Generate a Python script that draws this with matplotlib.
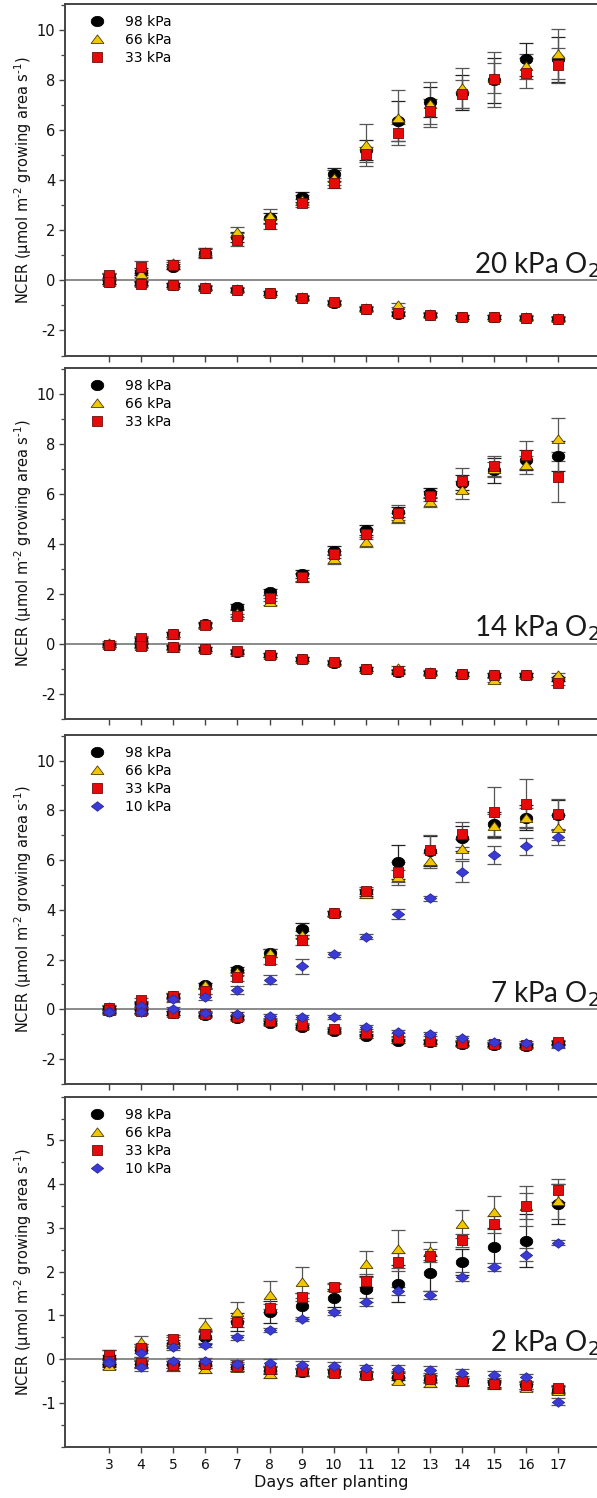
import matplotlib
matplotlib.use("Agg")
import matplotlib.pyplot as plt
from matplotlib.ticker import MultipleLocator, FixedLocator
from matplotlib.path import Path
import numpy as np

plt.rcParams['font.family'] = ['DejaVu Sans']
plt.rcParams['mathtext.fontset'] = 'dejavusans'
plt.rcParams['axes.unicode_minus'] = False

days = [3, 4, 5, 6, 7, 8, 9, 10, 11, 12, 13, 14, 15, 16, 17]
series_labels = ["98 kPa", "66 kPa", "33 kPa", "10 kPa"]
panel_labels = ["20 kPa O$_2$", "14 kPa O$_2$", "7 kPa O$_2$", "2 kPa O$_2$"]

# ---- 20 kPa O2 ----
o20_light_98 = [0.15, 0.35, 0.55, 1.1, 1.75, 2.5, 3.33, 4.24, 5.2, 6.37, 7.13, 7.5, 8.0, 8.83, 8.83]
o20_light_66 = [0.2, 0.27, 0.7, 1.15, 1.93, 2.56, 3.2, 4.1, 5.4, 6.5, 7.03, 7.67, 8.1, 8.56, 9.04]
o20_light_33 = [0.2, 0.53, 0.6, 1.1, 1.63, 2.24, 3.1, 3.9, 5.03, 5.9, 6.76, 7.44, 8.03, 8.29, 8.6]
o20_light_err_98 = [0.12, 0.15, 0.1, 0.15, 0.2, 0.2, 0.2, 0.25, 0.4, 0.8, 0.6, 0.7, 0.9, 0.65, 0.9]
o20_light_err_66 = [0.1, 0.15, 0.12, 0.15, 0.2, 0.3, 0.2, 0.3, 0.85, 1.1, 0.9, 0.8, 0.6, 0.5, 1.0]
o20_light_err_33 = [0.1, 0.25, 0.15, 0.2, 0.25, 0.2, 0.15, 0.2, 0.3, 0.35, 0.5, 0.55, 1.1, 0.6, 0.7]
o20_dark_98 = [-0.05, -0.12, -0.2, -0.3, -0.38, -0.52, -0.7, -0.9, -1.15, -1.35, -1.4, -1.47, -1.47, -1.5, -1.55]
o20_dark_66 = [-0.05, -0.1, -0.18, -0.28, -0.36, -0.5, -0.68, -0.85, -1.1, -1.0, -1.35, -1.45, -1.45, -1.48, -1.5]
o20_dark_33 = [-0.05, -0.13, -0.2, -0.3, -0.37, -0.52, -0.7, -0.87, -1.13, -1.3, -1.37, -1.47, -1.47, -1.5, -1.53]

# ---- 14 kPa O2 ----
o14_light_98 = [-0.04, 0.15, 0.4, 0.8, 1.49, 2.09, 2.8, 3.73, 4.56, 5.3, 6.05, 6.45, 6.96, 7.36, 7.52]
o14_light_66 = [0.05, 0.2, 0.38, 0.75, 1.25, 1.7, 2.65, 3.39, 4.09, 5.03, 5.69, 6.16, 7.0, 7.16, 8.19]
o14_light_33 = [-0.04, 0.23, 0.39, 0.75, 1.12, 1.83, 2.69, 3.59, 4.39, 5.25, 5.93, 6.53, 7.12, 7.56, 6.69]
o14_light_err_98 = [0.08, 0.1, 0.1, 0.1, 0.12, 0.12, 0.15, 0.18, 0.2, 0.2, 0.2, 0.3, 0.5, 0.4, 0.6]
o14_light_err_66 = [0.08, 0.1, 0.1, 0.1, 0.15, 0.15, 0.15, 0.2, 0.2, 0.2, 0.2, 0.35, 0.3, 0.35, 0.85]
o14_light_err_33 = [0.08, 0.1, 0.1, 0.1, 0.1, 0.12, 0.15, 0.15, 0.2, 0.3, 0.2, 0.5, 0.4, 0.57, 1.0]
o14_dark_98 = [-0.05, -0.05, -0.1, -0.21, -0.3, -0.44, -0.6, -0.75, -1.0, -1.1, -1.15, -1.21, -1.24, -1.24, -1.4]
o14_dark_66 = [-0.03, -0.08, -0.15, -0.2, -0.3, -0.44, -0.58, -0.73, -0.98, -0.95, -1.13, -1.2, -1.44, -1.24, -1.24]
o14_dark_33 = [-0.05, -0.08, -0.1, -0.21, -0.29, -0.43, -0.6, -0.73, -1.0, -1.07, -1.15, -1.21, -1.24, -1.24, -1.55]

# ---- 7 kPa O2 ----
o7_light_98 = [0.05, 0.2, 0.55, 0.97, 1.6, 2.27, 3.24, 3.87, 4.7, 5.93, 6.35, 6.88, 7.44, 7.7, 7.8]
o7_light_66 = [0.1, 0.25, 0.5, 0.97, 1.5, 2.27, 3.0, 3.87, 4.64, 5.31, 5.97, 6.44, 7.37, 7.71, 7.3]
o7_light_33 = [0.05, 0.37, 0.55, 0.73, 1.31, 1.97, 2.8, 3.87, 4.77, 5.53, 6.41, 7.04, 7.95, 8.27, 7.84]
o7_light_10 = [-0.05, 0.13, 0.4, 0.48, 0.77, 1.2, 1.73, 2.21, 2.91, 3.84, 4.47, 5.53, 6.21, 6.55, 6.91]
o7_light_err_98 = [0.08, 0.1, 0.1, 0.1, 0.1, 0.15, 0.25, 0.1, 0.15, 0.67, 0.6, 0.5, 0.5, 0.5, 0.6]
o7_light_err_66 = [0.08, 0.1, 0.1, 0.1, 0.1, 0.15, 0.15, 0.1, 0.15, 0.3, 0.3, 0.4, 0.5, 0.4, 0.5]
o7_light_err_33 = [0.08, 0.1, 0.1, 0.1, 0.15, 0.15, 0.2, 0.1, 0.15, 0.4, 0.6, 0.5, 1.0, 1.0, 0.6]
o7_light_err_10 = [0.05, 0.08, 0.1, 0.12, 0.15, 0.2, 0.3, 0.1, 0.1, 0.2, 0.1, 0.43, 0.37, 0.35, 0.3]
o7_dark_98 = [-0.05, -0.05, -0.15, -0.23, -0.35, -0.56, -0.7, -0.85, -1.09, -1.29, -1.32, -1.38, -1.42, -1.48, -1.35]
o7_dark_66 = [-0.05, -0.05, -0.15, -0.2, -0.3, -0.5, -0.65, -0.82, -1.0, -1.2, -1.3, -1.36, -1.4, -1.45, -1.35]
o7_dark_33 = [-0.02, -0.05, -0.16, -0.2, -0.3, -0.45, -0.62, -0.8, -0.96, -1.16, -1.29, -1.36, -1.4, -1.43, -1.32]
o7_dark_10 = [-0.09, -0.09, 0.0, -0.13, -0.2, -0.25, -0.32, -0.32, -0.69, -0.89, -0.99, -1.16, -1.32, -1.36, -1.49]

# ---- 2 kPa O2 ----
o2_light_98 = [0.05, 0.2, 0.35, 0.5, 0.85, 1.07, 1.22, 1.4, 1.61, 1.73, 1.97, 2.22, 2.56, 2.71, 3.55]
o2_light_66 = [0.0, 0.4, 0.4, 0.79, 1.09, 1.46, 1.76, 1.65, 2.18, 2.52, 2.47, 3.08, 3.36, 3.5, 3.61]
o2_light_33 = [0.1, 0.25, 0.46, 0.57, 0.84, 1.17, 1.42, 1.65, 1.79, 2.22, 2.37, 2.72, 3.08, 3.5, 3.86]
o2_light_10 = [-0.05, 0.14, 0.27, 0.33, 0.5, 0.67, 0.92, 1.07, 1.31, 1.56, 1.47, 1.89, 2.11, 2.39, 2.66]
o2_light_err_98 = [0.15, 0.15, 0.1, 0.15, 0.2, 0.25, 0.3, 0.2, 0.3, 0.43, 0.4, 0.3, 0.45, 0.6, 0.45]
o2_light_err_66 = [0.1, 0.13, 0.1, 0.16, 0.22, 0.32, 0.35, 0.1, 0.3, 0.43, 0.2, 0.32, 0.38, 0.3, 0.4]
o2_light_err_33 = [0.1, 0.1, 0.1, 0.1, 0.1, 0.1, 0.1, 0.08, 0.15, 0.2, 0.15, 0.15, 0.2, 0.45, 0.27]
o2_light_err_10 = [0.05, 0.08, 0.05, 0.05, 0.05, 0.05, 0.05, 0.05, 0.1, 0.1, 0.1, 0.1, 0.1, 0.15, 0.06]
o2_dark_98 = [-0.1, -0.12, -0.12, -0.12, -0.18, -0.25, -0.3, -0.3, -0.35, -0.4, -0.45, -0.5, -0.55, -0.6, -0.7]
o2_dark_66 = [-0.15, -0.1, -0.18, -0.23, -0.2, -0.34, -0.3, -0.3, -0.37, -0.49, -0.55, -0.53, -0.6, -0.65, -0.72]
o2_dark_33 = [-0.05, -0.09, -0.13, -0.12, -0.15, -0.23, -0.28, -0.32, -0.37, -0.34, -0.46, -0.5, -0.57, -0.6, -0.66]
o2_dark_10 = [-0.08, -0.18, -0.05, -0.05, -0.1, -0.08, -0.13, -0.15, -0.21, -0.22, -0.24, -0.31, -0.36, -0.41, -0.97]

dark_err = 0.08

panels = [
    dict(light=[o20_light_98, o20_light_66, o20_light_33],
         err=[o20_light_err_98, o20_light_err_66, o20_light_err_33],
         dark=[o20_dark_98, o20_dark_66, o20_dark_33]),
    dict(light=[o14_light_98, o14_light_66, o14_light_33],
         err=[o14_light_err_98, o14_light_err_66, o14_light_err_33],
         dark=[o14_dark_98, o14_dark_66, o14_dark_33]),
    dict(light=[o7_light_98, o7_light_66, o7_light_33, o7_light_10],
         err=[o7_light_err_98, o7_light_err_66, o7_light_err_33, o7_light_err_10],
         dark=[o7_dark_98, o7_dark_66, o7_dark_33, o7_dark_10]),
    dict(light=[o2_light_98, o2_light_66, o2_light_33, o2_light_10],
         err=[o2_light_err_98, o2_light_err_66, o2_light_err_33, o2_light_err_10],
         dark=[o2_dark_98, o2_dark_66, o2_dark_33, o2_dark_10]),
]

# slightly wide marker shapes (the original figure is horizontally stretched)
theta = np.linspace(0, 2 * np.pi, 41)
m_circle = Path(np.column_stack([np.cos(theta), 0.82 * np.sin(theta)]), closed=True)
m_tri = Path([(-1, -0.62), (1, -0.62), (0, 0.72), (-1, -0.62)], closed=True)
m_square = Path([(-1, -0.92), (1, -0.92), (1, 0.92), (-1, 0.92), (-1, -0.92)], closed=True)
m_diamond = Path([(-1, 0), (0, -0.78), (1, 0), (0, 0.78), (-1, 0)], closed=True)

styles = [
    dict(marker=m_circle, color='black', mec='black', ms=9, ecolor='#222222'),
    dict(marker=m_tri, color='#f2c600', mec='#4a3c00', ms=9.2, ecolor='#555555'),
    dict(marker=m_square, color='#e60a0a', mec='#6a1010', ms=7.6, ecolor='#555555'),
    dict(marker=m_diamond, color='#3a3ad6', mec='#2a2aa0', ms=8.8, ecolor='#555555'),
]

W, H = 597, 1498
fig = plt.figure(figsize=(W / 100, H / 100), dpi=100)

boxes = [(4, 355.5), (368, 719), (734.7, 1084), (1096.7, 1446.7)]
left_px, right_px = 65, 597
ylims = [(-3, 11.04), (-3, 11.04), (-3, 11.04), (-2, 6.0)]

for i, (p, (t, b)) in enumerate(zip(panels, boxes)):
    ax = fig.add_axes([left_px / W, 1 - b / H, (right_px - left_px) / W, (b - t) / H])
    ax.axhline(0, color='#8a8a8a', lw=1.4, zorder=1)
    handles = []
    for k in range(len(p['light'])):
        st = styles[k]
        kw = dict(fmt='none', ecolor=st['ecolor'], elinewidth=0.9, capsize=5.2,
                  capthick=0.9, zorder=2)
        ax.errorbar(days, p['light'][k], yerr=p['err'][k], **kw)
        ax.errorbar(days, p['dark'][k], yerr=dark_err, **kw)
    for k in range(len(p['light'])):
        st = styles[k]
        mk = dict(linestyle='none', marker=st['marker'], color=st['color'],
                  mec=st['mec'], mew=0.6, ms=st['ms'], zorder=4 + k)
        h, = ax.plot(days, p['light'][k], label=series_labels[k], **mk)
        ax.plot(days, p['dark'][k], **mk)
        handles.append(h)
    ax.set_xlim(1.63, 18.2)
    ax.set_ylim(*ylims[i])
    if i < 3:
        ax.yaxis.set_major_locator(FixedLocator([-2, 0, 2, 4, 6, 8, 10]))
        ax.yaxis.set_minor_locator(FixedLocator([-3, -1, 1, 3, 5, 7, 9, 11]))
    else:
        ax.yaxis.set_major_locator(FixedLocator([-1, 0, 1, 2, 3, 4, 5]))
        ax.yaxis.set_minor_locator(MultipleLocator(0.5))
    ax.set_xticks(days)
    if i < 3:
        ax.set_xticklabels([])
    else:
        ax.set_xticklabels([str(d) for d in days])
        ax.set_xlabel("Days after planting", fontsize=11.5, labelpad=2, color='#111111')
    ax.tick_params(axis='y', which='major', direction='out', length=4.3, width=1.0,
                   color='#444444', labelsize=10.5, pad=2.5, labelcolor='#111111')
    ax.tick_params(axis='x', which='major', direction='out', length=4.2, width=1.0,
                   color='#444444', labelsize=10, pad=4, labelcolor='#111111')
    ax.tick_params(axis='y', which='minor', direction='out', length=3, width=0.9,
                   color='#444444')
    for s in ['left', 'top', 'bottom']:
        ax.spines[s].set_color('#444444')
        ax.spines[s].set_linewidth(1.4)
    ax.spines['right'].set_visible(False)
    ax.set_ylabel("NCER (µmol m$^{\\text{-}2}$ growing area s$^{\\text{-}1}$)",
                  fontsize=10.5, color='#111111')
    ax.yaxis.set_label_coords(-0.058, 0.5)
    ax.legend(handles=handles, loc='upper left', bbox_to_anchor=(0.034, 0.968),
              frameon=False, fontsize=10, handlelength=2.0, handletextpad=1.0,
              labelspacing=0.28, borderpad=0, borderaxespad=0, numpoints=1)
    ax.annotate(panel_labels[i], xy=(1.0, 0), xycoords=('axes fraction', 'data'),
                xytext=(2, 5.5), textcoords='offset points', ha='right', va='baseline',
                fontsize=20, family=['Lato', 'DejaVu Sans'], fontweight='normal',
                color='#1a1a1a')

fig.savefig("out.png", dpi=100)
